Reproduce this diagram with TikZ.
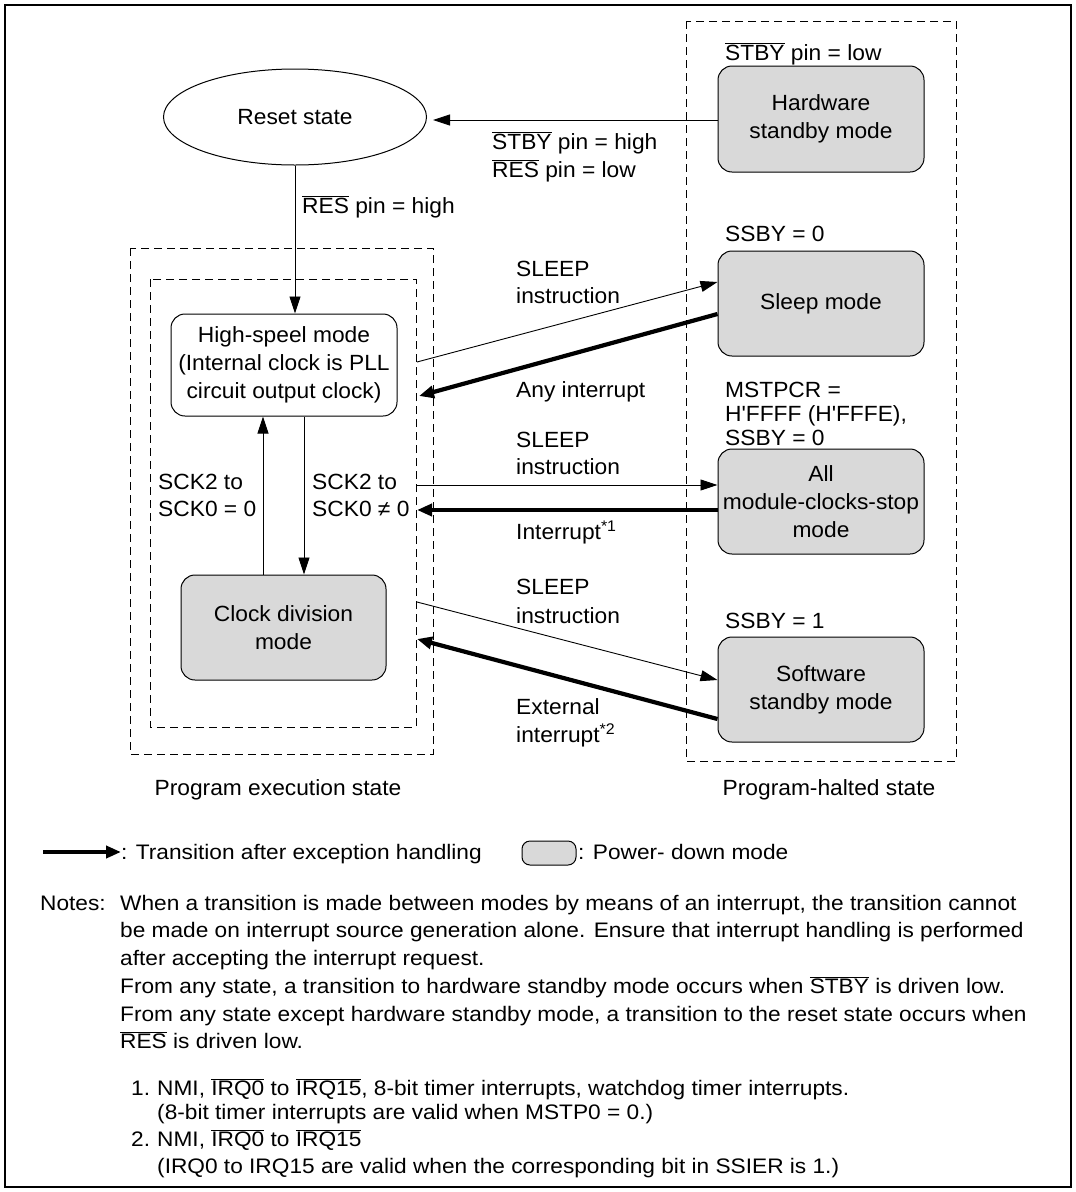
\documentclass[tikz,border=0pt]{standalone}
\usepackage{fontspec}
\setmainfont{Liberation Sans}
\newfontfamily\dfont{Liberation Sans}[FakeStretch=1.035]
\newfontfamily\nfont{Liberation Sans}[FakeStretch=1.08]
\usetikzlibrary{shapes.geometric,arrows.meta,calc}
\newcommand{\ovl}[1]{$\overline{\mbox{#1}}$}
\begin{document}
\begin{tikzpicture}[x=1pt,y=-1pt,
  font=\dfont\fontsize{22}{28}\selectfont,
  box/.style={draw, rounded corners=14pt, line width=1pt, align=center, inner sep=0pt},
  pbox/.style={box, fill=gray!30},
  lbl/.style={anchor=base west, inner sep=0pt},
  ctr/.style={anchor=base, inner sep=0pt},
  note/.style={anchor=base west, inner sep=0pt, font=\nfont\fontsize{21}{27}\selectfont},
  thinarr/.style={line width=0.9pt, -{Triangle[length=17pt,width=11pt]}},
  thickarr/.style={line width=4.2pt, -{Triangle[length=15pt,width=12pt]}},
  dbox/.style={draw, line width=0.9pt, dash pattern=on 8pt off 5pt}]
\useasboundingbox (0,0) rectangle (1076,1192);
\draw[line width=1.8pt] (5,5) rectangle (1071,1187);
% dashed regions
\draw[dbox] (130,248) rectangle (433,754);
\draw[dbox] (150,279) rectangle (416,727);
\draw[dbox] (686,21) rectangle (956,761);
% nodes
\node[draw, ellipse, line width=1pt, minimum width=263pt, minimum height=96pt] (reset) at (295,117) {Reset state};
\node[pbox, minimum width=206pt, minimum height=106pt] (hw) at (821,119) {Hardware\\standby mode};
\node[pbox, minimum width=206pt, minimum height=105pt] (sleep) at (821,303.5) {Sleep mode};
\node[pbox, minimum width=206pt, minimum height=105pt] (allm) at (821,501.5) {All\\module-clocks-stop\\mode};
\node[pbox, minimum width=206pt, minimum height=105pt] (sw) at (821,689.5) {Software\\standby mode};
\node[box, fill=white, minimum width=226pt, minimum height=102pt] (hs) at (284,365) {High-speel mode\\(Internal clock is PLL\\circuit output clock)};
\node[pbox, minimum width=205pt, minimum height=105pt] (cd) at (283.5,627.5) {Clock division\\mode};
% free ends on the program-execution border
\coordinate (e1) at (417,362);
\coordinate (e2) at (419,396);
\coordinate (e3) at (417,485);
\coordinate (e4) at (417,510);
\coordinate (e5) at (417,602);
\coordinate (e6) at (417,639);
% connectors
\draw[thinarr, shorten >=6pt] (hw.west |- 0,120) -- (reset.east |- 0,120);
\draw[thinarr] (reset.south) -- (reset.south |- hs.north);
\draw[thinarr] (cd.north -| 263,0) -- (hs.south -| 263,0);
\draw[thinarr] (hs.south -| 304,0) -- (cd.north -| 304,0);
\draw[thinarr] (e1) -- (sleep.west |- 0,282);
\draw[thickarr] (sleep.west |- 0,314) -- (e2);
\draw[thinarr] (e3) -- (allm.west |- 0,485);
\draw[thickarr] (allm.west |- 0,510) -- (e4);
\draw[thinarr] (e5) -- (sw.west |- 0,680);
\draw[thickarr] (sw.west |- 0,719) -- (e6);
% labels
\node[lbl] (l1) at (725,60) {\ovl{STBY} pin = low};
\node[lbl] (l2) at (492,149) {\ovl{STBY} pin = high};
\node[lbl] (l3) at (492,177) {\ovl{RES} pin = low};
\node[lbl] (l4) at (302,213) {\ovl{RES} pin = high};
\node[lbl] (l5) at (725,241) {SSBY = 0};
\node[lbl] (l6) at (516,276) {SLEEP};
\node[lbl] (l7) at (516,303) {instruction};
\node[lbl] (l8) at (516,397) {Any interrupt};
\node[lbl] (l9) at (725,397) {MSTPCR =};
\node[lbl] (l10) at (725,421) {H\textquotesingle FFFF (H\textquotesingle FFFE),};
\node[lbl] (l11) at (725,445) {SSBY = 0};
\node[lbl] (l12) at (516,447) {SLEEP};
\node[lbl] (l13) at (516,474) {instruction};
\node[lbl] (l14) at (516,539) {Interrupt\textsuperscript{*1}};
\node[lbl] (l15) at (158,489) {SCK2 to};
\node[lbl] (l16) at (158,516) {SCK0 = 0};
\node[lbl] (l17) at (312,489) {SCK2 to};
\node[lbl] (l18) at (312,516) {SCK0 ≠ 0};
\node[lbl] (l19) at (516,594) {SLEEP};
\node[lbl] (l20) at (516,623) {instruction};
\node[lbl] (l21) at (725,628) {SSBY = 1};
\node[lbl] (l22) at (516,714) {External};
\node[lbl] (l23) at (516,742) {interrupt\textsuperscript{*2}};
\node[ctr] (l24) at (278,795) {Program execution state};
\node[ctr] (l25) at (829,795) {Program-halted state};
% legend
\coordinate (la) at (43,852);
\coordinate (lb) at (121,852);
\draw[thickarr] (la) -- (lb);
\node[note] (lg1) at (121,859) {: Transition after exception handling};
\node[draw, fill=gray!30, line width=1pt, rounded corners=8pt, minimum width=54pt, minimum height=24pt, inner sep=0pt] (lgbox) at (549,853) {};
\node[note] (lg2) at (578,859) {: Power- down mode};
% notes
\node[note] (n0) at (40,910) {Notes:};
\node[note] (n1) at (120,910) {When a transition is made between modes by means of an interrupt, the transition cannot};
\node[note] (n2) at (120,937) {be made on interrupt source generation alone. Ensure that interrupt handling is performed};
\node[note] (n3) at (120,965) {after accepting the interrupt request.};
\node[note] (n4) at (120,993) {From any state, a transition to hardware standby mode occurs when \ovl{STBY} is driven low.};
\node[note] (n5) at (120,1021) {From any state except hardware standby mode, a transition to the reset state occurs when};
\node[note] (n6) at (120,1048) {\ovl{RES} is driven low.};
\node[note] (n7) at (131,1095) {1.};
\node[note] (n8) at (157,1095) {NMI, \ovl{IRQ0} to \ovl{IRQ15}, 8-bit timer interrupts, watchdog timer interrupts.};
\node[note] (n9) at (157,1119) {(8-bit timer interrupts are valid when MSTP0 = 0.)};
\node[note] (n10) at (131,1146) {2.};
\node[note] (n11) at (157,1146) {NMI, \ovl{IRQ0} to \ovl{IRQ15}};
\node[note] (n12) at (157,1173) {(IRQ0 to IRQ15 are valid when the corresponding bit in SSIER is 1.)};
\end{tikzpicture}
\end{document}
